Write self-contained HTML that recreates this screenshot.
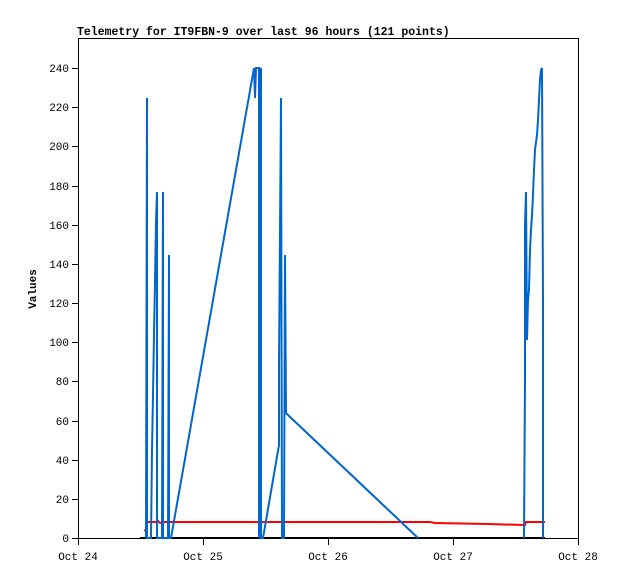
<!DOCTYPE html>
<html><head><meta charset="utf-8"><style>
body{margin:0;background:#fff;}
svg text{font-family:"Liberation Mono","DejaVu Sans Mono",monospace;font-size:11px;fill:#000;}
</style></head><body>
<svg width="618" height="579" xmlns="http://www.w3.org/2000/svg">
<rect x="0" y="0" width="618" height="579" fill="#fff"/>
<text x="77" y="35" font-weight="bold" style="font-size:11.5px">Telemetry for IT9FBN-9 over last 96 hours (121 points)</text>
<rect x="78.5" y="38.5" width="500" height="500" fill="none" stroke="#000" stroke-width="1"/>
<g stroke="#000" stroke-width="1">
<line x1="72" y1="538.5" x2="78" y2="538.5"/><line x1="72" y1="499.5" x2="78" y2="499.5"/><line x1="72" y1="460.5" x2="78" y2="460.5"/><line x1="72" y1="421.5" x2="78" y2="421.5"/><line x1="72" y1="381.5" x2="78" y2="381.5"/><line x1="72" y1="342.5" x2="78" y2="342.5"/><line x1="72" y1="303.5" x2="78" y2="303.5"/><line x1="72" y1="264.5" x2="78" y2="264.5"/><line x1="72" y1="225.5" x2="78" y2="225.5"/><line x1="72" y1="186.5" x2="78" y2="186.5"/><line x1="72" y1="146.5" x2="78" y2="146.5"/><line x1="72" y1="107.5" x2="78" y2="107.5"/><line x1="72" y1="68.5" x2="78" y2="68.5"/>
<line x1="78.5" y1="538" x2="78.5" y2="545"/><line x1="203.5" y1="538" x2="203.5" y2="545"/><line x1="328.5" y1="538" x2="328.5" y2="545"/><line x1="453.5" y1="538" x2="453.5" y2="545"/><line x1="578.5" y1="538" x2="578.5" y2="545"/>
</g>
<g text-anchor="end">
<text x="69" y="542">0</text><text x="69" y="503">20</text><text x="69" y="464">40</text><text x="69" y="425">60</text><text x="69" y="385">80</text><text x="69" y="346">100</text><text x="69" y="307">120</text><text x="69" y="268">140</text><text x="69" y="229">160</text><text x="69" y="190">180</text><text x="69" y="150">200</text><text x="69" y="111">220</text><text x="69" y="72">240</text>
</g>
<g text-anchor="middle">
<text x="78" y="560">Oct 24</text><text x="203" y="560">Oct 25</text><text x="328" y="560">Oct 26</text><text x="453" y="560">Oct 27</text><text x="578" y="560">Oct 28</text>
</g>
<text transform="translate(36,289) rotate(-90)" text-anchor="middle" font-weight="bold">Values</text>
<line x1="140" y1="538" x2="545" y2="538" stroke="#000" stroke-width="2"/>
<polyline fill="none" stroke="#f00" stroke-width="2" points="144,530 146,531 146,522 157,522 158,521 160,523 163,522 300,522 430,522 435,523 488,524 525,525 526,522 545,522"/>
<polyline fill="none" stroke="#0066cc" stroke-width="2" stroke-linejoin="miter" points="146,538 147,98 147,538 151,538 152,450 153,395 154,335 155,282 156,222 157,192 157,538 162,538 163,192 163,365 163,538 168,538 169,255 169,538 171,538 254,68 255,98 256,68 259,68 259,538 261,68 261,538 263,538 279,445 279,365 281,98 282,538 284,538 285,255 286,413 288,415 418,538"/>
<polyline fill="none" stroke="#0066cc" stroke-width="2" points="524,538 525,380 525,225 526,192 527,340 528,300 529,290 530,250 531,230 532,215 533,195 534,170 535,150 537,135 538,120 539,100 540,80 541,70 542,68 543,300 543,538"/>
</svg>
</body></html>
